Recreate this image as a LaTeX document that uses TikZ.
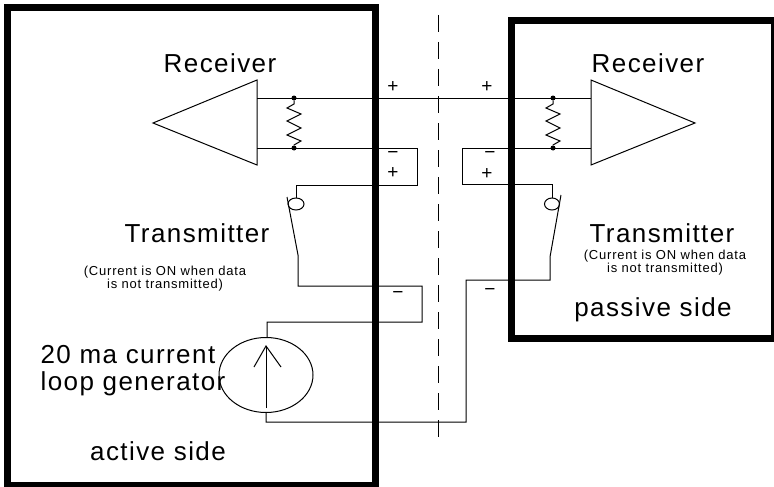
\documentclass[tikz,border=0pt]{standalone}
\usepackage{fontspec}
\usepackage{tikz}
\usetikzlibrary{shapes.geometric}
\newfontfamily\bigfont[LetterSpace=5.5]{Liberation Sans}
\newfontfamily\smallfont[LetterSpace=6]{Liberation Sans}
\newfontfamily\markfont{Liberation Sans}

\tikzset{
	wire/.style = {line width = 1pt},
	sidebox/.style = {line width = 7pt},
	bigtext/.style = {font = \bigfont\fontsize{26}{27}\selectfont, inner sep = 0pt, align = center},
	smalltext/.style = {font = \smallfont\fontsize{13}{13}\selectfont, inner sep = 0pt, align = center},
	polarity/.style = {font = \markfont\fontsize{19}{19}\selectfont, inner sep = 0pt},
	joint/.style = {circle, fill = black, inner sep = 0pt, minimum size = 5pt}
}

\begin{document}
\begin{tikzpicture}[x=1pt,y=-1pt]

	\useasboundingbox (0,0) rectangle (774,487);

	% receiver triangles
	\coordinate (ltip) at (153,123);
	\coordinate (ltop) at (257,80);
	\coordinate (lbot) at (257,165);
	\coordinate (rtip) at (695,123);
	\coordinate (rtop) at (591,80);
	\coordinate (rbot) at (591,165);

	\draw[wire] (ltip) -- (ltop) -- (lbot) -- cycle;
	\draw[wire] (rtip) -- (rtop) -- (rbot) -- cycle;

	% resistors
	\foreach \rname/\rx in {l/294,r/553} {
		\node[joint] (\rname plus) at (\rx,98) {};
		\node[joint] (\rname minus) at (\rx,148) {};
		\draw[wire] (\rname plus) -- ++(0,6) -- ++(-7,4) -- ++(14,6) -- ++(-14,7) -- ++(14,7) -- ++(-14,7) -- ++(14,6) -- ++(-7,4) -- (\rname minus);
	}

	% receive pair
	\coordinate (la) at (257,98);
	\coordinate (lb) at (257,148);
	\coordinate (ra) at (591,98);
	\coordinate (rb) at (591,148);
	\draw[wire] (la) -- (ra);
	\draw[wire] (lb) -- (417,148) -- (417,185) -- (296,185) -- (296,198);
	\draw[wire] (rb) -- (462,148) -- (462,184) -- (552,184) -- (552,198);

	% switches
	\node[draw, wire, ellipse, minimum width = 16pt, minimum height = 12pt, inner sep = 0pt] (lcontact) at (296,204) {};
	\node[draw, wire, ellipse, minimum width = 15pt, minimum height = 12pt, inner sep = 0pt] (rcontact) at (552,204) {};
	\draw[wire] (287,197) -- (298,255) -- (298,286) -- (422,286) -- (422,322) -- (267,322) -- (267,337);
	\draw[wire] (561,195) -- (550,257) -- (550,280) -- (466,280) -- (466,422) -- (266,422) -- (266,412);

	% generator
	\node[draw, wire, ellipse, minimum width = 94pt, minimum height = 75pt, inner sep = 0pt] (gen) at (266,375) {};
	\coordinate (gentail) at (266,408);
	\coordinate (genhead) at (266,346);
	\draw[wire] (gentail) -- (genhead);
	\draw[wire] (254,367) -- (genhead) -- (281,367);

	% boundary
	\draw[wire, dash pattern = on 17pt off 10pt] (438,15) -- (438,439);

	% the two sides
	\draw[sidebox] (7,7.5) rectangle (375,485);
	\draw[sidebox] (511,21) rectangle (774.5,338);

	\node[polarity] (pa) at (393,87) {+};
	\node[polarity] (pb) at (393,155) {−};
	\node[polarity] (pc) at (393,173) {+};
	\node[polarity] (pd) at (487,87) {+};
	\node[polarity] (pe) at (490,155) {−};
	\node[polarity] (pf) at (487,174) {+};
	\node[polarity] (pg) at (398,295) {−};
	\node[polarity] (ph) at (490,292) {−};

	\node[bigtext, anchor = base] (lrecv) at (220,73) {Receiver};
	\node[bigtext, anchor = base] (rrecv) at (648,73) {Receiver};
	\node[bigtext, anchor = base] (ltrans) at (197,242) {Transmitter};
	\node[bigtext, anchor = base] (rtrans) at (662,242) {Transmitter};
	\node[smalltext] (lnote) at (165,279) {(Current is ON when data\\is not transmitted)};
	\node[smalltext] (rnote) at (665,263) {(Current is ON when data\\is not transmitted)};
	\node[bigtext, align = left] (genlabel) at (133,371) {20 ma current\\loop generator};
	\node[bigtext, anchor = base] (active) at (158,460) {active side};
	\node[bigtext, anchor = base] (passive) at (653,316) {passive side};

\end{tikzpicture}
\end{document}
